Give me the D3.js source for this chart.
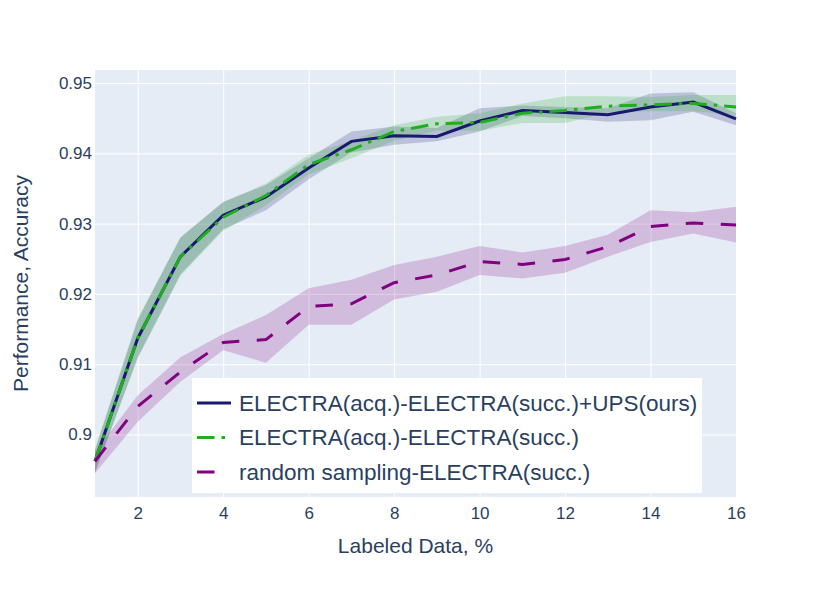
<!DOCTYPE html>
<html>
<head>
<meta charset="utf-8">
<script src="https://cdn.jsdelivr.net/npm/d3@7"></script>
<style>
  body { margin: 0; background: #fff; }
  text { font-family: "Liberation Sans", Arial, sans-serif; fill: #2a3f5f; }
</style>
</head>
<body>
<svg id="chart" width="831" height="593"></svg>
<script>
/* labeled data, % */
var labeled = [1, 2, 3, 4, 5, 6, 7, 8, 9, 10, 11, 12, 13, 14, 15, 16];

/* ELECTRA(acq.)-ELECTRA(succ.)+UPS(ours) */
var upsMean  = [0.8962, 0.9137, 0.9253, 0.9312, 0.9338, 0.9379, 0.9417, 0.9425, 0.9424, 0.9446, 0.9461, 0.9458, 0.9455, 0.9466, 0.9473, 0.9449];
var upsUpper = [0.8978, 0.9163, 0.9280, 0.9331, 0.9355, 0.9393, 0.9431, 0.9438, 0.9436, 0.9464, 0.9468, 0.9466, 0.9464, 0.9485, 0.9487, 0.9457];
var upsLower = [0.8946, 0.9110, 0.9228, 0.9292, 0.9319, 0.9363, 0.9401, 0.9412, 0.9417, 0.9431, 0.9453, 0.9450, 0.9445, 0.9447, 0.9459, 0.9440];

/* ELECTRA(acq.)-ELECTRA(succ.) */
var elMean  = [0.8962, 0.9137, 0.9253, 0.9309, 0.9340, 0.9384, 0.9405, 0.9431, 0.9442, 0.9444, 0.9457, 0.9461, 0.9467, 0.9469, 0.9471, 0.9466];
var elUpper = [0.8980, 0.9165, 0.9281, 0.9330, 0.9357, 0.9398, 0.9418, 0.9440, 0.9452, 0.9457, 0.9471, 0.9481, 0.9481, 0.9480, 0.9483, 0.9483];
var elLower = [0.8946, 0.9108, 0.9226, 0.9290, 0.9326, 0.9370, 0.9393, 0.9418, 0.9432, 0.9432, 0.9443, 0.9443, 0.9458, 0.9460, 0.9460, 0.9455];

/* random sampling-ELECTRA(succ.) */
var rndMean  = [0.8962, 0.9040, 0.9089, 0.9131, 0.9135, 0.9182, 0.9186, 0.9216, 0.9227, 0.9246, 0.9242, 0.9249, 0.9267, 0.9296, 0.9301, 0.9298];
var rndUpper = [0.8975, 0.9056, 0.9110, 0.9143, 0.9170, 0.9208, 0.9220, 0.9241, 0.9253, 0.9268, 0.9259, 0.9268, 0.9284, 0.9319, 0.9316, 0.9324];
var rndLower = [0.8945, 0.9018, 0.9075, 0.9120, 0.9102, 0.9156, 0.9156, 0.9192, 0.9203, 0.9227, 0.9222, 0.9230, 0.9253, 0.9274, 0.9286, 0.9273];

var seriesNames = ['ELECTRA(acq.)-ELECTRA(succ.)+UPS(ours)', 'ELECTRA(acq.)-ELECTRA(succ.)', 'random sampling-ELECTRA(succ.)'];
var xTicks = [2, 4, 6, 8, 10, 12, 14, 16];
var yTicks = [0.9, 0.91, 0.92, 0.93, 0.94, 0.95];

/* plot box */
var L = 95, R = 736, T = 70, B = 497;

var svg = d3.select('#chart');
var x = d3.scaleLinear().domain([1, 16]).range([L, R]);
var y = d3.scaleLinear().domain([0.89111, 0.95185]).range([B, T]);

svg.append('rect')
    .attr('x', L).attr('y', T)
    .attr('width', R - L).attr('height', B - T)
    .attr('fill', '#e5ecf6');

/* сетка */
var gx = svg.append('g').attr('transform', 'translate(0,' + B + ')')
    .call(d3.axisBottom(x).tickValues(xTicks).tickSize(-(B - T)).tickPadding(10).tickFormat(d3.format('d')));
var gy = svg.append('g').attr('transform', 'translate(' + L + ',0)')
    .call(d3.axisLeft(y).tickValues(yTicks).tickSize(-(R - L)).tickPadding(3).tickFormat(function(d) { return d3.format('.2~f')(d); }));
[gx, gy].forEach(function(g) {
    g.select('.domain').remove();
    g.selectAll('line').attr('stroke', '#fff').attr('stroke-width', 1);
    g.selectAll('text').style('font-size', '17px').attr('fill', '#2a3f5f');
});
gx.selectAll('text').attr('dy', '0.71em');

var series = [
    { mean: upsMean, upper: upsUpper, lower: upsLower, color: '#191970', band: 'rgba(25,25,112,0.2)', dash: null },
    { mean: elMean, upper: elUpper, lower: elLower, color: '#1fae1f', band: 'rgba(31,174,31,0.2)', dash: '17.5,7,3.5,7' },
    { mean: rndMean, upper: rndUpper, lower: rndLower, color: '#800080', band: 'rgba(128,0,128,0.2)', dash: '17.5,17.5' }
];

var area = d3.area()
    .x(function(d, i) { return x(labeled[i]); })
    .y0(function(d) { return y(d[0]); })
    .y1(function(d) { return y(d[1]); });
var line = d3.line()
    .x(function(d, i) { return x(labeled[i]); })
    .y(function(d) { return y(d); });

var plot = svg.append('g');
series.forEach(function(s) {
    var pairs = s.lower.map(function(v, i) { return [v, s.upper[i]]; });
    plot.append('path').attr('d', area(pairs)).attr('fill', s.band);
});
series.forEach(function(s) {
    plot.append('path').attr('d', line(s.mean))
        .attr('fill', 'none')
        .attr('stroke', s.color)
        .attr('stroke-width', 3)
        .attr('stroke-dasharray', s.dash);
});

/* legend */
var lg = svg.append('g');
lg.append('rect').attr('x', 192).attr('y', 378).attr('width', 510).attr('height', 115).attr('fill', '#fff');
series.forEach(function(s, i) {
    var cy = 403 + i * 34.5;
    lg.append('line')
        .attr('x1', 197).attr('x2', 231).attr('y1', cy).attr('y2', cy)
        .attr('stroke', s.color).attr('stroke-width', 3)
        .attr('stroke-dasharray', s.dash);
    lg.append('text')
        .attr('x', 239).attr('y', cy).attr('dy', '0.35em')
        .style('font-size', '22.5px')
        .text(seriesNames[i]);
});

/* axis titles */
svg.append('text')
    .attr('x', (L + R) / 2).attr('y', 553)
    .attr('text-anchor', 'middle')
    .style('font-size', '21px')
    .text('Labeled Data, %');
svg.append('text')
    .attr('transform', 'translate(28,' + (T + B) / 2 + ') rotate(-90)')
    .attr('text-anchor', 'middle')
    .style('font-size', '21px')
    .text('Performance, Accuracy');
</script>
</body>
</html>
